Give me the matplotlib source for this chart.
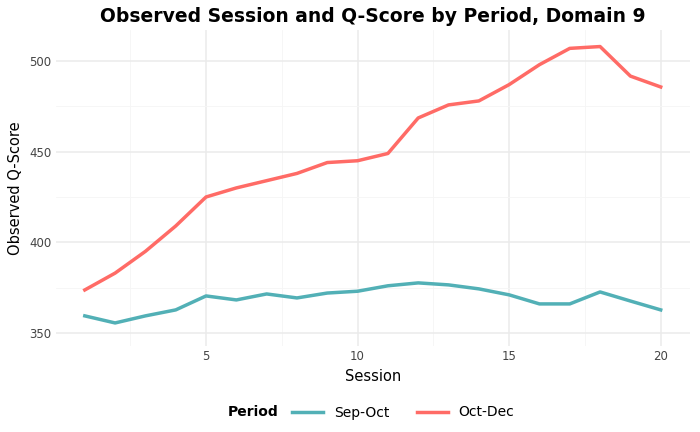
import matplotlib
matplotlib.use("Agg")
import matplotlib.pyplot as plt

sessions = list(range(1, 21))
sep_oct = [359.4, 355.5, 359.4, 362.7, 370.4, 368.2, 371.5, 369.3, 372.0, 373.0,
           376.0, 377.6, 376.5, 374.3, 371.0, 366.0, 366.0, 372.6, 367.6, 362.7]
oct_dec = [373.7, 383.0, 395.0, 409.0, 425.0, 430.0, 434.0, 438.0, 444.0, 445.0,
           449.0, 468.6, 475.8, 478.0, 487.0, 498.0, 507.0, 508.0, 491.7, 485.7]

fig, ax = plt.subplots(figsize=(7, 4.32), dpi=100)
ax.plot(sessions, sep_oct, color="#52B0B6", lw=2.5, label="Sep-Oct")
ax.plot(sessions, oct_dec, color="#FF6B66", lw=2.5, label="Oct-Dec")

ax.set_xlim(0.05, 20.95)
ax.set_ylim(343, 517)
ax.set_xticks([5, 10, 15, 20])
ax.set_yticks([350, 400, 450, 500])
ax.set_xticks([2.5, 7.5, 12.5, 17.5], minor=True)
ax.set_yticks([375, 425, 475], minor=True)
ax.grid(True, which="major", color="#EBEBEB", lw=1.1)
ax.grid(True, which="minor", color="#F5F5F5", lw=0.6)
ax.tick_params(which="both", length=0, labelsize=8.5, labelcolor="#444444")
for s in ax.spines.values():
    s.set_visible(False)

ax.set_xlabel("Session", fontsize=10.5)
ax.set_ylabel("Observed Q-Score", fontsize=10.5)
ax.set_title("Observed Session and Q-Score by Period, Domain 9", fontsize=13.5, fontweight="bold")

leg = fig.legend(loc="lower center", ncol=2, frameon=False, title="Period",
                 fontsize=10, bbox_to_anchor=(0.53, 0.0), handlelength=2.2)
leg.get_title().set_fontweight("bold")
leg._legend_box.align = "left"
# put title to the left of the entries
from matplotlib.offsetbox import HPacker
box = leg._legend_box
box._children = [HPacker(children=list(box.get_children()), align="center", pad=0, sep=10)]

fig.subplots_adjust(left=0.08, right=0.985, top=0.93, bottom=0.2)
fig.savefig("out.png", dpi=100)
